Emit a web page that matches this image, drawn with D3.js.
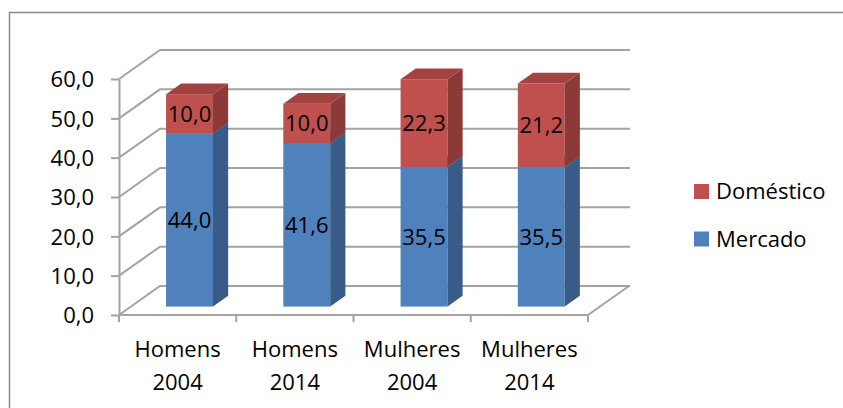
<!DOCTYPE html>
<html><head><meta charset="utf-8">
<script src="https://cdn.jsdelivr.net/npm/d3@7"></script>
<style>
html,body{margin:0;padding:0;background:#fff;overflow:hidden}
svg{display:block}
text{font-family:"Open Sans",Lato,sans-serif;fill:#000}
</style></head>
<body>
<svg id="chart" width="843" height="408"></svg>
<script>
const categories = ["Homens 2004","Homens 2014","Mulheres 2004","Mulheres 2014"];
const mercado = [44.0, 41.6, 35.5, 35.5];
const domestico = [10.0, 10.0, 22.3, 21.2];
const seriesNames = ["Mercado","Doméstico"];
const yTicks = [0,10,20,30,40,50,60];

const colors = {
  "Mercado":   {front:"#4F81BD", side:"#385C87", top:"#44709F"},
  "Doméstico": {front:"#C0504D", side:"#8C3A38", top:"#A24341"}
};
const FONT = 22;
const FAMILY = "'Open Sans', Lato, sans-serif";
const svg = d3.select("#chart");
const locale = d3.formatLocale({decimal:",", thousands:".", grouping:[3], currency:["",""]});
const fmt = locale.format(".1f");

// plot geometry
const x0 = 119, x1 = 588;
const DX = 41, DY = 29;            // depth offset of the back wall
const zFront = 0.29, zBack = 0.66; // bar depth within the floor
const y = d3.scaleLinear().domain([0,60]).range([315,79]);
const xCat = d3.scaleBand().domain(categories).range([x0,x1]);
const xBar = d3.scaleBand().domain(categories).range([x0,x1]).paddingInner(0.6).paddingOuter(0.3);
const P = (px, v, z) => [px + DX*z, y(v) - DY*z];

// outer border
svg.append("rect").attr("x",9.5).attr("y",12.5).attr("width",900).attr("height",500)
  .attr("fill","none").attr("stroke","#8a8a8a").attr("stroke-width",1.5);

const grid = svg.append("g").attr("fill","none").attr("stroke","#a3a3a3").attr("stroke-width",2);
yTicks.forEach(v => {
  const a = P(x0, v, 0), b = P(x0, v, 1);
  grid.append("path").attr("d", d3.line()([a, b, [x1 + DX + 1, b[1]]]));
});
// floor right edge
grid.append("path").attr("d", d3.line()([P(x1,0,0), P(x1,0,1)]));
// x axis line and ticks
grid.append("path").attr("d", d3.line()([P(x0,0,0), P(x1,0,0)]));
const bounds = categories.map(c => xCat(c)).concat([x1]);
bounds.forEach(bx => grid.append("path").attr("d", d3.line()([[bx, y(0)], [bx, y(0)+7]])));

// y axis
const yAxis = svg.append("g").attr("transform",`translate(${x0},0)`)
  .call(d3.axisLeft(y).tickValues(yTicks).tickSize(8).tickSizeOuter(0).tickPadding(17).tickFormat(fmt));
yAxis.select(".domain").attr("stroke","#a3a3a3").attr("stroke-width",2);
yAxis.selectAll(".tick line").attr("stroke","#a3a3a3").attr("stroke-width",2);
yAxis.selectAll(".tick text").attr("font-size",FONT).attr("font-family",FAMILY).attr("dy","0.36em");

// bars
const stacked = categories.map((c,i) => [
  {s:"Mercado", c, v0:0, v1:mercado[i], val:mercado[i]},
  {s:"Doméstico", c, v0:mercado[i], v1:mercado[i]+domestico[i], val:domestico[i]}
]);
const bars = svg.append("g");
stacked.forEach(segs => segs.forEach(d => {
  const l = xBar(d.c), r = xBar(d.c) + xBar.bandwidth();
  const col = colors[d.s];
  const g = bars.append("g");
  const fl = P(l,d.v1,zFront), fr = P(r,d.v0,zFront);
  g.append("rect").attr("x",fl[0]).attr("y",fl[1]).attr("width",fr[0]-fl[0]).attr("height",fr[1]-fl[1]).attr("fill",col.front);
  g.append("path").attr("fill",col.side).attr("d", d3.line()([P(r,d.v0,zFront),P(r,d.v1,zFront),P(r,d.v1,zBack),P(r,d.v0,zBack)])+"Z");
  g.append("path").attr("fill",col.top).attr("d", d3.line()([P(l,d.v1,zFront),P(r,d.v1,zFront),P(r,d.v1,zBack),P(l,d.v1,zBack)])+"Z");
}));
// data labels
stacked.forEach(segs => segs.forEach(d => {
  const cx = xBar(d.c) + xBar.bandwidth()/2;
  const p = P(cx, (d.v0+d.v1)/2, zFront);
  svg.append("text").attr("x",p[0]).attr("y",p[1]).attr("dy","0.36em")
    .attr("text-anchor","middle").attr("font-size",FONT).text(fmt(d.val));
}));

// x labels
categories.forEach(c => {
  const parts = c.split(" ");
  const cx = xCat(c) + xCat.bandwidth()/2;
  const t = svg.append("text").attr("text-anchor","middle").attr("font-size",FONT);
  t.append("tspan").attr("x",cx).attr("y",357).text(parts[0]);
  t.append("tspan").attr("x",cx).attr("y",390).text(parts[1]);
});

// legend
const legendOrder = ["Doméstico","Mercado"];
const lg = svg.append("g");
legendOrder.forEach((s,i) => {
  const yy = 184 + i*47.5;
  lg.append("rect").attr("x",694).attr("y",yy).attr("width",15).attr("height",15).attr("fill",colors[s].front);
  lg.append("text").attr("x",716).attr("y",yy+15).attr("font-size",FONT).text(s);
});
</script>
</body></html>
